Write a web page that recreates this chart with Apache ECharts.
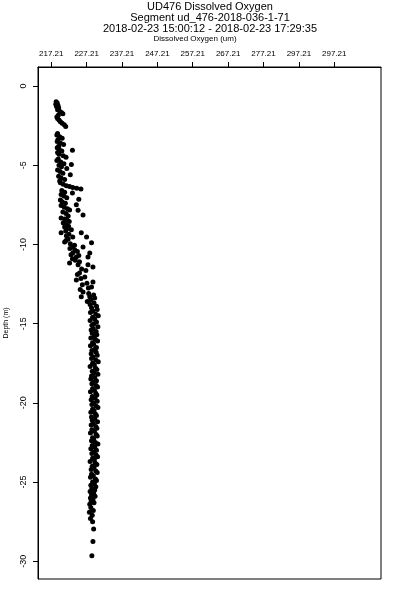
<!DOCTYPE html>
<html>
<head>
<meta charset="utf-8">
<script src="https://cdn.jsdelivr.net/npm/echarts@6/dist/echarts.min.js"></script>
<style>html,body{margin:0;padding:0;background:#fff}#c{width:400px;height:600px}</style>
</head>
<body>
<div id="c"></div>
<script>
// ---- data ----
var titleLines = ['UD476 Dissolved Oxygen', 'Segment ud_476-2018-036-1-71', '2018-02-23 15:00:12 - 2018-02-23 17:29:35'];
var xAxisTitle = 'Dissolved Oxygen (um)';
var yAxisTitle = 'Depth (m)';
var xTickValues = [217.21, 227.21, 237.21, 247.21, 257.21, 267.21, 277.21, 287.21, 297.21];
var xTickLabels = ['217.21', '227.21', '237.21', '247.21', '257.21', '267.21', '277.21', '297.21', '297.21'];
var yTickValues = [0, -5, -10, -15, -20, -25, -30];

var depthTop = [-1.00,-1.08,-1.15,-1.22,-1.30,-1.38,-1.50,-1.60,-1.68,-1.75,-1.85,-1.95,-2.05,-2.15,-2.25,-2.35,-2.45,-2.55];
var oxygenTop = [218.6,218.9,218.5,219.1,218.7,219.3,219.0,219.6,220.1,220.5,219.2,218.8,219.0,219.4,219.8,220.3,220.9,221.3];

var depthUpper = [-3.00,-3.10,-3.20,-3.30,-3.40,-3.50,-3.60,-3.70,-3.80,-3.90,-4.00,-4.05,-4.10,-4.20,-4.30,-4.40,-4.50,-4.60,-4.70,-4.80,-4.90,-4.95,-5.00,-5.10,-5.20,-5.30,-5.40,-5.50,-5.60,-5.70,-5.80,-5.90,-6.00,
  -6.10,-6.20,-6.30,-6.35,-6.40,-6.45,-6.50,-6.60,-6.70,-6.75,-6.85,-6.95,-7.05,-7.15,-7.20];
var oxygenUpper = [219.0,218.8,219.6,220.3,219.1,218.9,219.8,220.7,219.3,218.9,219.5,223.2,220.2,219.0,219.4,220.6,221.4,219.2,218.8,219.9,220.8,222.9,219.4,220.1,221.6,219.0,219.7,220.5,222.6,219.3,220.0,221.0,219.6,
  219.8,220.6,221.5,222.4,223.3,224.4,225.6,220.2,221.0,223.2,220.0,220.8,221.6,225.0,219.8];

var depthMid = [-7.30,-7.40,-7.50,-7.55,-7.65,-7.75,-7.82,-7.85,-7.95,-8.05,-8.14,-8.20,-8.33,-8.40,-8.45,-8.55,-8.65,-8.75,-8.85,-8.90,-9.00,-9.08,-9.15,-9.27,-9.27,-9.35,-9.45,-9.53,-9.53,
  -9.65,-9.75,-9.84,-9.90,-9.95,-10.05,-10.16,-10.16,-10.25,-10.35,-10.45,-10.54,-10.54,-10.65,-10.70,-10.79,-10.79,-10.90,-11.00,-11.10,-11.17,-11.29,-11.29,-11.42];
var oxygenMid = [220.3,221.2,224.3,220.0,220.9,221.8,222.4,224.8,220.5,221.4,226.2,222.0,220.0,221.0,221.6,222.3,220.6,221.4,222.1,221.0,221.9,222.9,221.3,220.0,225.7,222.2,221.5,223.3,227.2,
  222.0,221.4,221.0,228.6,222.6,223.8,223.3,226.2,222.5,223.9,224.6,223.3,228.1,222.8,225.0,224.3,227.6,223.2,224.0,225.2,222.4,224.8,227.6,229.0];

var depthTrans = [-11.55,-11.65,-11.80,-11.90,-12.05,-12.15,-12.24,-12.37,-12.45,-12.55,-12.68,-12.75,-12.85,-13.00,-13.10,-13.20,-13.31,-13.31,-13.38,-13.50,-13.60,-13.70,-13.80,-13.90];
var oxygenTrans = [225.8,227.0,225.2,224.6,226.7,225.6,224.3,229.0,227.3,226.0,228.6,227.7,225.4,226.2,227.8,229.2,225.7,228.1,229.5,228.4,227.4,229.3,228.2,230.0];

var depthDeep = [-14.0,-14.1,-14.2,-14.3,-14.4,-14.5,-14.6,-14.7,-14.8,-14.9,-15.0,-15.1,-15.2,-15.3,-15.4,-15.5,-15.6,-15.7,-15.8,-15.9,
  -16.0,-16.1,-16.2,-16.3,-16.4,-16.5,-16.6,-16.7,-16.8,-16.9,-17.0,-17.1,-17.2,-17.3,-17.4,-17.5,-17.6,-17.7,-17.8,-17.9,
  -18.0,-18.1,-18.2,-18.3,-18.4,-18.5,-18.6,-18.7,-18.8,-18.9,-19.0,-19.1,-19.2,-19.3,-19.4,-19.5,-19.6,-19.7,-19.8,-19.9,
  -20.0,-20.1,-20.2,-20.3,-20.4,-20.5,-20.6,-20.7,-20.8,-20.9,-21.0,-21.1,-21.2,-21.3,-21.4,-21.5,-21.6,-21.7,-21.8,-21.9,
  -22.0,-22.1,-22.2,-22.3,-22.4,-22.5,-22.6,-22.7,-22.8,-22.9,-23.0,-23.1,-23.2,-23.3,-23.4,-23.5,-23.6,-23.7,-23.8,-23.9,
  -24.0,-24.1,-24.2,-24.3,-24.4,-24.5,-24.6,-24.7,-24.8,-24.9,-25.0,-25.1,-25.2,-25.3,-25.4,-25.5,-25.6,-25.7,-25.8,-25.9,
  -26.0,-26.1,-26.2,-26.3,-26.4];
var oxygenDeep = [228.6,230.2,229.0,228.3,229.8,230.5,228.9,229.5,228.2,230.0,229.3,228.7,230.4,229.1,228.5,229.9,228.8,230.1,229.4,228.4,
  229.7,230.3,228.9,229.2,228.3,230.0,229.6,228.7,229.9,228.5,230.2,229.0,228.6,229.8,230.5,228.9,229.4,228.2,229.7,230.1,
  228.8,229.3,230.4,228.6,229.5,228.4,230.0,229.1,228.7,229.9,230.3,228.9,229.4,228.3,229.8,230.1,228.8,229.6,228.5,230.2,
  229.2,228.7,229.9,230.4,228.9,229.3,228.4,229.7,230.0,228.6,229.5,228.8,230.3,229.1,228.5,229.8,230.1,228.7,229.4,228.3,
  229.9,230.2,228.9,229.2,228.6,229.7,230.4,228.8,229.5,228.4,230.0,229.3,228.7,229.9,230.3,228.9,229.4,228.2,229.6,230.1,
  228.8,229.3,228.5,229.8,230.2,228.6,229.1,228.3,229.7,230.0,228.9,229.4,228.4,229.8,228.7,229.5,228.2,229.2,228.6,229.6,
  228.3,229.0,228.5,229.3,228.1];

var depthBottom = [-26.6,-26.8,-26.9,-27.1,-27.3,-27.5,-27.97,-28.75,-29.65];
var oxygenBottom = [228.4,229.1,228.0,228.8,228.3,228.9,229.2,229.0,228.7];

// ---- build ----
var depths = [].concat(depthTop, depthUpper, depthMid, depthTrans, depthDeep, depthBottom);
var oxygen = [].concat(oxygenTop, oxygenUpper, oxygenMid, oxygenTrans, oxygenDeep, oxygenBottom);
var points = [];
for (var i = 0; i < depths.length; i++) points.push([oxygen[i], depths[i]]);

function xLabel(v) {
  var best = 0, bd = Infinity;
  for (var k = 0; k < xTickValues.length; k++) {
    var d = Math.abs(xTickValues[k] - v);
    if (d < bd) { bd = d; best = k; }
  }
  return xTickLabels[best];
}

var FONT = 'Liberation Sans, Arial, Helvetica, sans-serif';
var chart = echarts.init(document.getElementById('c'), null, {renderer: 'canvas'});
chart.setOption({
  animation: false,
  backgroundColor: '#fff',
  grid: {left: 38, top: 67, width: 343, height: 512, show: true, borderColor: '#000', borderWidth: 1, backgroundColor: 'transparent'},
  xAxis: {
    type: 'value', position: 'top', min: 213.47, max: 310.42,
    axisLine: {show: true, onZero: false, lineStyle: {color: '#000', width: 1}},
    axisTick: {show: true, inside: false, length: 5, customValues: xTickValues, lineStyle: {color: '#000'}},
    axisLabel: {customValues: xTickValues, formatter: xLabel, fontSize: 8, color: '#000', fontFamily: FONT, margin: 9},
    splitLine: {show: false}
  },
  yAxis: {
    type: 'value', min: -31.12, max: 1.2,
    axisLine: {show: true, onZero: false, lineStyle: {color: '#000', width: 1}},
    axisTick: {show: true, inside: false, length: 5, customValues: yTickValues, lineStyle: {color: '#000'}},
    axisLabel: {customValues: yTickValues, rotate: 90, fontSize: 9, color: '#000', fontFamily: FONT, margin: 10},
    splitLine: {show: false}
  },
  series: [{
    type: 'scatter', data: points, symbol: 'circle', symbolSize: 5,
    itemStyle: {color: '#000', opacity: 1}, silent: true
  }],
  graphic: [
    {type: 'text', x: 210, y: 1.5, style: {text: titleLines[0], fill: '#000', font: '11px ' + FONT, align: 'center', verticalAlign: 'top', textAlign: 'center', textVerticalAlign: 'top'}},
    {type: 'text', x: 210, y: 12.5, style: {text: titleLines[1], fill: '#000', font: '11px ' + FONT, align: 'center', verticalAlign: 'top', textAlign: 'center', textVerticalAlign: 'top'}},
    {type: 'text', x: 210, y: 23.5, style: {text: titleLines[2], fill: '#000', font: '11px ' + FONT, align: 'center', verticalAlign: 'top', textAlign: 'center', textVerticalAlign: 'top'}},
    {type: 'text', x: 195, y: 35, style: {text: xAxisTitle, fill: '#000', font: '8px ' + FONT, align: 'center', verticalAlign: 'top', textAlign: 'center', textVerticalAlign: 'top'}},
    {type: 'text', x: 6.5, y: 323, rotation: Math.PI / 2, style: {text: yAxisTitle, fill: '#000', font: '7px ' + FONT, align: 'center', verticalAlign: 'middle', textAlign: 'center', textVerticalAlign: 'middle'}}
  ]
});
</script>
</body>
</html>
